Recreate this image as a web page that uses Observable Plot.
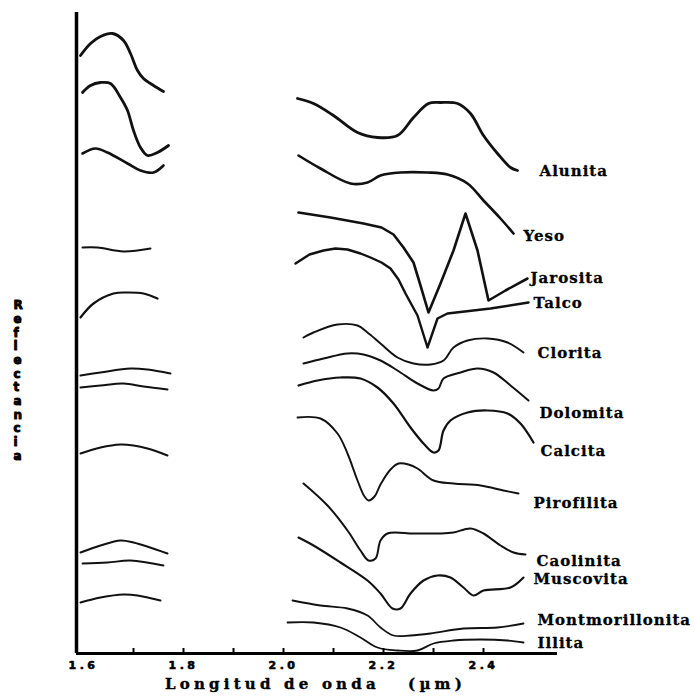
<!DOCTYPE html>
<html>
<head>
<meta charset="utf-8">
<script src="https://cdn.jsdelivr.net/npm/d3@7"></script>
<script src="https://cdn.jsdelivr.net/npm/@observablehq/plot@0.6"></script>
<style>
  html, body { margin: 0; padding: 0; background: #fff; }
</style>
</head>
<body>
<div id="chart"></div>
<script>
// ---- Data (wavelength µm, relative reflectance with vertical offset) ----
const minerales = ["Alunita","Yeso","Jarosita","Talco","Clorita","Dolomita","Calcita","Pirofilita","Caolinita","Muscovita","Montmorillonita","Illita"];

const alunita = [[2.028,55.5],[2.060,55.0],[2.100,53.8],[2.148,52.1],[2.188,51.6],[2.228,51.8],[2.260,53.6],[2.290,55.0],[2.314,55.1],[2.348,55.0],[2.374,54.0],[2.400,51.8],[2.428,50.0],[2.454,48.6],[2.468,48.3]];
const yeso = [[2.030,49.8],[2.074,48.5],[2.134,47.0],[2.168,47.1],[2.194,47.8],[2.234,48.1],[2.288,48.1],[2.328,47.9],[2.368,47.0],[2.400,45.3],[2.434,43.5],[2.460,42.0]];
const jarosita = [[2.030,44.1],[2.094,43.6],[2.160,43.0],[2.196,42.6],[2.220,41.9],[2.240,40.6],[2.260,39.1],[2.274,36.8],[2.290,34.1],[2.314,37.0],[2.340,40.3],[2.364,44.0],[2.388,40.3],[2.410,35.3],[2.444,36.3],[2.488,37.5]];
const talco = [[2.024,39.0],[2.052,39.9],[2.080,40.3],[2.104,40.5],[2.128,40.4],[2.154,40.0],[2.174,39.6],[2.196,39.1],[2.214,38.5],[2.230,37.4],[2.244,36.0],[2.268,33.8],[2.288,30.6],[2.308,33.5],[2.328,34.0],[2.414,34.5],[2.490,35.1]];
const clorita = [[2.040,31.6],[2.060,32.1],[2.108,32.9],[2.148,32.8],[2.168,32.1],[2.194,31.0],[2.228,29.6],[2.260,29.0],[2.294,28.9],[2.320,29.3],[2.340,30.6],[2.368,31.3],[2.408,31.5],[2.448,31.1],[2.480,30.1]];
const dolomita = [[2.040,29.0],[2.080,29.5],[2.128,30.0],[2.160,29.9],[2.194,29.3],[2.228,28.3],[2.268,27.0],[2.300,26.3],[2.310,26.5],[2.320,27.5],[2.354,28.1],[2.388,28.5],[2.420,28.1],[2.454,26.8],[2.490,25.3]];
const calcita = [[2.030,26.8],[2.068,27.3],[2.114,27.6],[2.154,27.5],[2.188,26.6],[2.220,25.0],[2.254,22.6],[2.280,21.0],[2.300,20.1],[2.310,20.3],[2.320,22.3],[2.334,23.3],[2.368,24.1],[2.408,24.3],[2.448,24.0],[2.474,23.0],[2.500,21.1]];
const pirofilita = [[2.028,23.6],[2.074,23.5],[2.108,22.0],[2.128,20.0],[2.148,17.3],[2.162,15.7],[2.170,15.3],[2.182,15.7],[2.194,16.9],[2.214,18.4],[2.230,19.0],[2.250,18.9],[2.268,18.5],[2.300,17.3],[2.340,17.0],[2.394,16.8],[2.440,16.3],[2.470,16.0]];
const caolinita = [[2.040,17.0],[2.088,14.8],[2.128,12.3],[2.154,10.3],[2.170,9.3],[2.184,9.5],[2.194,11.3],[2.208,12.0],[2.260,12.0],[2.314,12.0],[2.340,12.1],[2.374,12.5],[2.400,12.0],[2.434,10.8],[2.460,10.1],[2.484,9.9]];
const muscovita = [[2.030,11.6],[2.060,10.8],[2.114,9.1],[2.168,7.3],[2.194,6.0],[2.218,4.5],[2.234,4.5],[2.254,6.0],[2.280,7.3],[2.308,7.8],[2.334,7.6],[2.360,6.6],[2.380,5.8],[2.400,6.3],[2.454,6.6],[2.480,7.6]];
const montmorillonita = [[2.018,5.3],[2.074,4.8],[2.128,4.5],[2.168,3.8],[2.194,2.6],[2.220,1.8],[2.254,1.8],[2.294,2.0],[2.360,2.5],[2.428,2.6],[2.480,3.0]];
const illita = [[2.008,3.1],[2.060,3.1],[2.114,2.6],[2.154,1.6],[2.188,0.6],[2.228,0.3],[2.268,0.3],[2.300,1.0],[2.340,1.3],[2.394,1.4],[2.448,1.3],[2.480,1.1]];

const espectros = [alunita, yeso, jarosita, talco, clorita, dolomita, calcita, pirofilita, caolinita, muscovita, montmorillonita, illita];

// label anchors (µm, reflectance units)
const etiquetaX = [2.512, 2.480, 2.494, 2.500, 2.508, 2.512, 2.514, 2.500, 2.506, 2.500, 2.508, 2.508];
const etiquetaY = [48.2, 41.7, 37.5, 35.0, 30.0, 24.0, 20.2, 15.0, 9.2, 7.4, 3.3, 1.0];

// short-wavelength segments (left part of the figure)
const segmentosIzq = [
  [[1.594,59.8],[1.614,61.0],[1.634,61.7],[1.658,62.0],[1.680,61.3],[1.694,60.0],[1.708,58.3],[1.720,57.5],[1.740,56.8],[1.760,56.2]],
  [[1.598,56.1],[1.614,56.8],[1.634,57.1],[1.654,57.0],[1.674,55.6],[1.688,54.3],[1.700,52.3],[1.714,50.6],[1.728,49.8],[1.748,50.1],[1.770,50.8]],
  [[1.598,50.0],[1.624,50.5],[1.648,50.1],[1.688,49.0],[1.714,48.3],[1.740,48.1],[1.760,48.8]],
  [[1.598,40.6],[1.628,40.6],[1.680,40.2],[1.734,40.5]],
  [[1.594,33.6],[1.620,35.0],[1.660,36.0],[1.688,36.1],[1.720,36.0],[1.748,35.5]],
  [[1.594,27.8],[1.634,28.1],[1.694,28.5],[1.728,28.4],[1.774,28.0]],
  [[1.594,26.6],[1.634,26.8],[1.680,27.0],[1.720,26.7],[1.768,26.4]],
  [[1.594,20.0],[1.634,20.6],[1.674,20.9],[1.700,20.8],[1.728,20.5],[1.768,19.8]],
  [[1.594,10.1],[1.634,10.8],[1.674,11.3],[1.700,11.1],[1.768,10.0]],
  [[1.598,9.0],[1.648,9.1],[1.694,9.3],[1.760,8.8]],
  [[1.594,5.1],[1.634,5.6],[1.680,5.9],[1.708,5.8],[1.754,5.3]]
];
const grosorIzq = [2.8, 2.8, 2.6, 2, 2.2, 2, 2, 2, 2, 1.8, 2];

const ticksX = [1.7, 1.8, 1.9, 2.0, 2.1, 2.2, 2.3, 2.4];
const etiquetasTicks = [1.6, 1.8, 2.0, 2.2, 2.4];
const tituloX = "Longitud de onda   (µm)";
const tituloY = "Reflectancia";
const grosor = [2.8, 2.6, 2.6, 2.4, 1.9, 2, 2.2, 1.9, 2, 2.1, 1.8, 1.8];

// ---- build tables ----
const filas = minerales.flatMap((m, i) => espectros[i].map(([w, r]) => ({serie: m, w, r, g: grosor[i]})));
const filasIzq = segmentosIzq.flatMap((s, i) => s.map(([w, r]) => ({serie: "izq" + i, w, r, g: grosorIzq[i]})));
const etiquetas = minerales.map((m, i) => ({m, x: etiquetaX[i], y: etiquetaY[i]}));
const lineales = new Set(["Jarosita", "Talco"]);

const xMin = 1.586, xMax = 2.55, yMax = 64.1;
const serif = "'DejaVu Serif', 'Liberation Serif', serif";
const sans = "'DejaVu Sans', sans-serif";

const svg = Plot.plot({
  width: 694,
  height: 698,
  marginLeft: 76,
  marginRight: 136,
  marginTop: 12,
  marginBottom: 45,
  x: {domain: [xMin, xMax], axis: null},
  y: {domain: [0, yMax], axis: null},
  style: {background: "#fff", color: "#111"},
  marks: [
    // spectra
    Plot.line(filas.filter(d => !lineales.has(d.serie)), {x: "w", y: "r", z: "serie", stroke: "#111", strokeWidth: "g", curve: "catmull-rom"}),
    Plot.line(filas.filter(d => lineales.has(d.serie)), {x: "w", y: "r", z: "serie", stroke: "#111", strokeWidth: "g", curve: "linear", strokeLinejoin: "round"}),
    Plot.line(filasIzq, {x: "w", y: "r", z: "serie", stroke: "#111", strokeWidth: "g", curve: "catmull-rom"}),
    // axes
    Plot.ruleX([xMin], {y1: 0, y2: yMax, stroke: "#000", strokeWidth: 3.5}),
    Plot.ruleY([0], {x1: xMin, x2: 2.548, stroke: "#000", strokeWidth: 3}),
    Plot.ruleX(ticksX, {x: d => d, y1: 0, y2: 0.5, stroke: "#000", strokeWidth: 2}),
    Plot.text(etiquetasTicks, {x: d => d, frameAnchor: "bottom", dy: 15, text: d => d.toFixed(1), fontSize: 11, fontWeight: "bold", fontFamily: sans, fill: "#000", stroke: "#000", strokeWidth: 0.6}),
    Plot.text([tituloX], {frameAnchor: "bottom", dx: -2, dy: 35, fontSize: 15, fontWeight: "bold", fontFamily: serif, fill: "#000", stroke: "#000", strokeWidth: 0.4}),
    Plot.text([tituloY.split("").join("\n")], {frameAnchor: "left", dx: -63, dy: 47, fontSize: 12, lineHeight: 1.14, fontWeight: "bold", fontFamily: sans, fill: "#000", stroke: "#000", strokeWidth: 0.9}),
    // mineral labels
    Plot.text(etiquetas, {x: "x", y: "y", text: "m", textAnchor: "start", fontSize: 15, fontWeight: "bold", fontFamily: serif, fill: "#000", stroke: "#000", strokeWidth: 0.3})
  ]
});

// wide letter spacing of the scanned lettering
const tickSet = new Set(etiquetasTicks.map(d => d.toFixed(1)));
d3.select(svg).selectAll("text").each(function() {
  const t = this.textContent;
  if (tickSet.has(t)) d3.select(this).attr("letter-spacing", "3.5px");
  else if (t === tituloX) d3.select(this).attr("letter-spacing", "4.2px");
  else if (minerales.includes(t)) d3.select(this).attr("letter-spacing", "1px");
});

document.getElementById("chart").appendChild(svg);
</script>
</body>
</html>
